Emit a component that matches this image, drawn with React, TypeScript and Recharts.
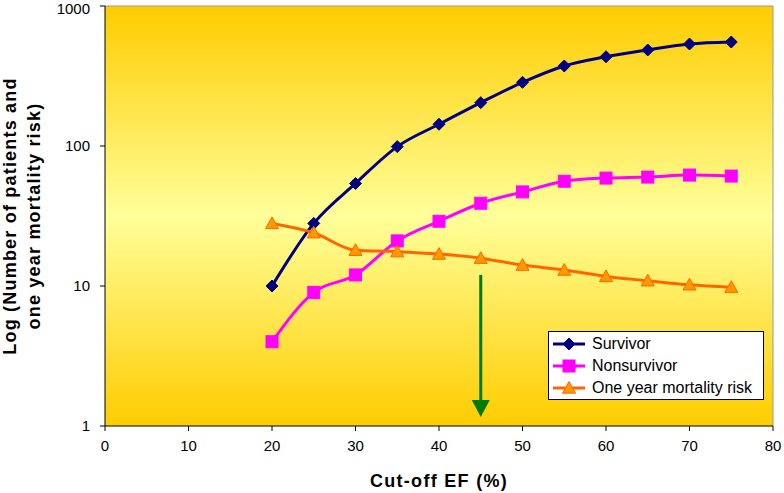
import React from 'react';
import {
  LineChart, Line, XAxis, YAxis, CartesianGrid, ReferenceLine, Label,
} from 'recharts';

// cut-off EF (%)
const cutoffs = [20, 25, 30, 35, 40, 45, 50, 55, 60, 65, 70, 75];
const survivor = [10, 28, 54, 99, 143, 204, 285, 373, 434, 485, 535, 553];
const nonsurvivor = [4, 9, 12, 21, 29, 39, 47, 56, 59, 60, 62, 61];
const mortality = [28, 24, 18, 17.6, 16.9, 15.8, 14.1, 13, 11.7, 10.9, 10.2, 9.8];

const xTicks = [0, 10, 20, 30, 40, 50, 60, 70, 80];
const yTicks = [1, 10, 100, 1000];

// green arrow at EF 45%
const arrowX = 45;
const arrowFrom = 12;
const arrowTo = 1.16;

const data = cutoffs.map((ef, i) => ({
  ef,
  survivor: survivor[i],
  nonsurvivor: nonsurvivor[i],
  mortality: mortality[i],
}));

const FONT = '"Liberation Sans", Arial, sans-serif';

const SERIES = [
  { key: 'survivor', name: 'Survivor', stroke: '#000080', fill: '#000080', shape: 'diamond' },
  { key: 'nonsurvivor', name: 'Nonsurvivor', stroke: '#FF00FF', fill: '#FF00FF', shape: 'square' },
  { key: 'mortality', name: 'One year mortality risk', stroke: '#FF6600', fill: '#FF9900', shape: 'triangle' },
];

function Marker({ cx, cy, shape, stroke, fill }: any) {
  if (cx == null || cy == null) return null;
  if (shape === 'diamond') {
    const r = 6;
    return <polygon points={`${cx},${cy - r} ${cx + r},${cy} ${cx},${cy + r} ${cx - r},${cy}`} fill={fill} stroke={stroke} strokeWidth={1} />;
  }
  if (shape === 'square') {
    const r = 6;
    return <rect x={cx - r} y={cy - r} width={2 * r} height={2 * r} fill={fill} stroke={stroke} strokeWidth={1} />;
  }
  const r = 6.5;
  return <polygon points={`${cx},${cy - r} ${cx + r},${cy + r * 0.8} ${cx - r},${cy + r * 0.8}`} fill={fill} stroke={stroke} strokeWidth={1} />;
}

function Arrow(props: any) {
  const { x1, y1, x2, y2 } = props;
  const head = 17;
  return (
    <g>
      <line x1={x1} y1={y1} x2={x2} y2={y2 - head + 1} stroke="#007A00" strokeWidth={3} />
      <polygon points={`${x2},${y2} ${x2 - 9},${y2 - head} ${x2 + 9},${y2 - head}`} fill="#007A00" />
    </g>
  );
}

function YTitle() {
  const cy = 216;
  return (
    <text
      transform={`translate(16,${cy}) rotate(-90)`}
      textAnchor="middle"
      fontFamily={FONT}
      fontWeight="bold"
      fontSize={18}
      letterSpacing={1.2}
      fill="#000"
    >
      <tspan x={0} dy={0}>Log (Number of patients and</tspan>
      <tspan x={0} dy={24}>one year mortality risk)</tspan>
    </text>
  );
}

function LegendBox() {
  return (
    <div style={{
      position: 'absolute', left: 548, top: 331,
      background: '#fff', border: '1px solid #000', width: 216, height: 69,
      boxSizing: 'border-box', padding: '1px 4px', fontFamily: FONT, fontSize: 16, lineHeight: '22px',
    }}>
      {SERIES.map(s => (
        <div key={s.key} style={{ display: 'flex', alignItems: 'center', height: 22 }}>
          <svg width={32} height={16} style={{ marginRight: 7 }}>
            <line x1={0} y1={8} x2={32} y2={8} stroke={s.stroke} strokeWidth={3} />
            <Marker cx={16} cy={8} shape={s.shape} stroke={s.stroke} fill={s.fill} />
          </svg>
          <span>{s.name}</span>
        </div>
      ))}
    </div>
  );
}

export default function App() {
  return (
    <div style={{ position: 'absolute', left: 0, top: 0, width: 784, height: 493, background: '#fff' }}>
      <LineChart
        width={784}
        height={493}
        data={data}
        margin={{ top: 6, right: 11, bottom: 0, left: 0 }}
      >
        <defs>
          <linearGradient id="plotBg" x1="0" y1="0" x2="0" y2="1">
            <stop offset="0%" stopColor="#FFCC00" />
            <stop offset="50%" stopColor="#FFFF99" />
            <stop offset="100%" stopColor="#FFCC00" />
          </linearGradient>
        </defs>
        <CartesianGrid fill="url(#plotBg)" horizontal={false} vertical={false} />
        <XAxis
          dataKey="ef"
          type="number"
          domain={[0, 80]}
          ticks={xTicks}
          height={67}
          tickSize={5}
          tickMargin={9}
          stroke="#000"
          tick={{ fill: '#000', fontSize: 15, fontFamily: FONT }}
        >
          <Label value="Cut-off EF (%)" position="insideBottom" offset={6}
            style={{ fontFamily: FONT, fontWeight: 'bold', fontSize: 18, letterSpacing: 1.3, fill: '#000' }} />
        </XAxis>
        <YAxis
          scale="log"
          domain={[1, 1000]}
          ticks={yTicks}
          allowDataOverflow
          width={105}
          tickSize={5}
          tickMargin={10}
          stroke="#000"
          tick={{ fill: '#000', fontSize: 15, fontFamily: FONT }}
          label={{ content: <YTitle /> }}
        />
        <ReferenceLine y={1000} stroke="#999" />
        <ReferenceLine x={80} stroke="#999" />
        {SERIES.map(s => (
          <Line
            key={s.key}
            type="monotone"
            dataKey={s.key}
            name={s.name}
            stroke={s.stroke}
            strokeWidth={3}
            dot={(p: any) => <Marker key={`${s.key}-${p.index}`} cx={p.cx} cy={p.cy} shape={s.shape} stroke={s.stroke} fill={s.fill} />}
            isAnimationActive={false}
          />
        ))}
        <ReferenceLine
          segment={[{ x: arrowX, y: arrowFrom }, { x: arrowX, y: arrowTo }]}
          shape={<Arrow />}
        />
      </LineChart>
      <LegendBox />
    </div>
  );
}
